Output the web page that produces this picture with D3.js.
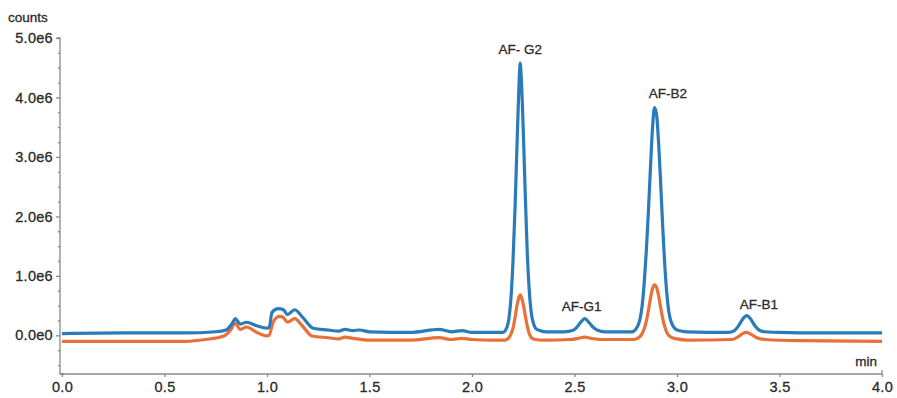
<!DOCTYPE html>
<html>
<head>
<meta charset="utf-8">
<script src="https://cdn.jsdelivr.net/npm/d3@7"></script>
<style>
  body { margin: 0; background: #fff; }
  text { font-family: "Liberation Sans", Arial, sans-serif; fill: #2a2a2a; }
</style>
</head>
<body>
<script>
// chromatogram, counts (x1e6) over retention time (min)

// blue trace: [time, counts in 1e6]
var blueTrace = [
  [0.00, 0.03], [0.30, 0.04], [0.60, 0.04], [0.75, 0.06], [0.80, 0.09],
  [0.83, 0.20], [0.845, 0.28], [0.87, 0.19], [0.90, 0.22], [0.95, 0.16],
  [1.00, 0.12], [1.01, 0.13], [1.025, 0.39], [1.055, 0.45], [1.08, 0.43],
  [1.10, 0.35], [1.135, 0.43], [1.17, 0.32], [1.225, 0.12], [1.30, 0.09],
  [1.35, 0.07], [1.38, 0.10], [1.42, 0.08], [1.45, 0.09], [1.50, 0.06],
  [1.70, 0.05], [1.84, 0.10], [1.90, 0.06], [1.95, 0.08], [2.00, 0.05],
  [2.15, 0.05], [2.16, 0.07], [2.17, 0.13], [2.18, 0.28], [2.19, 0.62],
  [2.20, 1.25], [2.21, 2.15], [2.22, 3.25], [2.23, 4.28], [2.235, 4.58],
  [2.24, 4.35], [2.25, 3.45], [2.26, 2.35], [2.27, 1.35], [2.28, 0.72],
  [2.29, 0.36], [2.30, 0.20], [2.31, 0.12], [2.33, 0.08], [2.36, 0.06],
  [2.45, 0.06], [2.49, 0.08], [2.51, 0.13], [2.53, 0.22], [2.55, 0.28],
  [2.57, 0.22], [2.59, 0.14], [2.61, 0.09], [2.65, 0.06], [2.78, 0.06],
  [2.80, 0.11], [2.82, 0.28], [2.83, 0.50], [2.84, 0.88], [2.85, 1.40],
  [2.86, 2.05], [2.87, 2.78], [2.88, 3.45], [2.89, 3.83], [2.90, 3.72],
  [2.91, 3.25], [2.92, 2.58], [2.93, 1.85], [2.94, 1.20], [2.95, 0.72],
  [2.96, 0.40], [2.98, 0.16], [3.00, 0.09], [3.05, 0.06], [3.25, 0.05],
  [3.28, 0.08], [3.30, 0.16], [3.32, 0.27], [3.34, 0.33], [3.36, 0.27],
  [3.38, 0.16], [3.40, 0.09], [3.43, 0.06], [3.50, 0.05], [3.70, 0.04],
  [4.00, 0.04]
];

// orange trace
var orangeTrace = [
  [0.00, -0.10], [0.30, -0.10], [0.60, -0.10], [0.70, -0.07], [0.79, -0.01],
  [0.82, 0.08], [0.845, 0.20], [0.87, 0.10], [0.90, 0.14], [0.95, 0.05],
  [1.00, -0.01], [1.01, 0.00], [1.03, 0.22], [1.06, 0.32], [1.08, 0.30],
  [1.10, 0.22], [1.135, 0.28], [1.17, 0.17], [1.22, -0.01], [1.30, -0.04],
  [1.35, -0.06], [1.38, -0.03], [1.42, -0.05], [1.50, -0.08], [1.70, -0.08],
  [1.84, -0.04], [1.90, -0.07], [1.95, -0.05], [2.00, -0.07], [2.10, -0.08],
  [2.16, -0.08], [2.18, -0.04], [2.19, 0.02], [2.20, 0.12], [2.21, 0.30],
  [2.22, 0.51], [2.23, 0.65], [2.235, 0.68], [2.24, 0.65], [2.25, 0.52],
  [2.26, 0.33], [2.27, 0.15], [2.28, 0.02], [2.29, -0.04], [2.31, -0.07],
  [2.35, -0.08], [2.48, -0.07], [2.52, -0.05], [2.55, -0.03], [2.58, -0.05],
  [2.63, -0.07], [2.78, -0.07], [2.80, -0.06], [2.82, -0.02], [2.83, 0.03],
  [2.84, 0.11], [2.85, 0.23], [2.86, 0.41], [2.87, 0.61], [2.88, 0.78],
  [2.89, 0.85], [2.90, 0.81], [2.91, 0.67], [2.92, 0.47], [2.93, 0.29],
  [2.94, 0.15], [2.95, 0.05], [2.97, -0.03], [3.00, -0.06], [3.05, -0.08],
  [3.27, -0.07], [3.30, -0.02], [3.32, 0.03], [3.34, 0.05], [3.36, 0.02],
  [3.39, -0.04], [3.43, -0.07], [3.60, -0.09], [4.00, -0.10]
];

// peak names with anchor [time, counts]
var peakNames = ["AF- G2", "AF-B2", "AF-G1", "AF-B1"];
var peakAnchors = [[2.235, 4.73], [2.955, 3.99], [2.535, 0.41], [3.40, 0.44]];

var xTicks = [0, 0.5, 1, 1.5, 2, 2.5, 3, 3.5, 4];
var xTickLabels = ["0.0", "0.5", "1.0", "1.5", "2.0", "2.5", "3.0", "3.5", "4.0"];
var yTicks = [0, 1, 2, 3, 4, 5];
var yTickLabels = ["0.0e0", "1.0e6", "2.0e6", "3.0e6", "4.0e6", "5.0e6"];
var yMinor = [-0.5, -0.25, 0.25, 0.5, 0.75, 1.25, 1.5, 1.75, 2.25, 2.5, 2.75,
              3.25, 3.5, 3.75, 4.25, 4.5, 4.75];

var width = 897, height = 398;
var pad = { left: 60, right: 15, top: 38, bottom: 24 };

var svg = d3.select("body").append("svg")
            .attr("width", width)
            .attr("height", height);

var xScale = d3.scaleLinear()
               .domain([0, 4])
               .range([62, 882]);
var yScale = d3.scaleLinear()
               .domain([-0.65, 5])
               .range([height - pad.bottom, pad.top]);

// x axis
var xAxis = d3.axisBottom(xScale)
              .tickValues(xTicks)
              .tickFormat(function(d, i) { return xTickLabels[i]; })
              .tickSize(3)
              .tickSizeOuter(0)
              .tickPadding(5);
var gx = svg.append("g")
   .attr("transform", "translate(0," + (height - pad.bottom) + ")")
   .call(xAxis);
gx.select(".domain").attr("d", "M" + (pad.left) + ",0H882V-4");

// y axis, major and minor ticks
var yAxis = d3.axisLeft(yScale)
              .tickValues(yTicks)
              .tickFormat(function(d, i) { return yTickLabels[i]; })
              .tickSize(4)
              .tickSizeOuter(0)
              .tickPadding(3);
var gy = svg.append("g")
   .attr("transform", "translate(" + pad.left + ",0)")
   .call(yAxis);
gy.select(".domain").attr("d", "M-3," + yScale(5) + "H0V" + (height - pad.bottom) + "H4");

svg.append("g")
   .attr("transform", "translate(" + pad.left + ",0)")
   .call(d3.axisLeft(yScale).tickValues(yMinor).tickFormat("").tickSize(2).tickSizeOuter(0))
   .select(".domain").remove();

svg.selectAll(".domain, .tick line")
   .attr("stroke", "#8a8a8a")
   .attr("stroke-width", 1.3);
svg.selectAll(".tick text")
   .style("font-size", "14.5px")
   .style("letter-spacing", "0.3px")
   .style("stroke", "#2a2a2a")
   .style("stroke-width", "0.3px")
   .attr("fill", "#2a2a2a");

// traces
var line = d3.line()
             .x(function(d) { return xScale(d[0]); })
             .y(function(d) { return yScale(d[1]); })
             .curve(d3.curveMonotoneX);

svg.append("path")
   .attr("d", line(orangeTrace))
   .attr("fill", "none")
   .attr("stroke", "#e8703a")
   .attr("stroke-width", 3.2)
   .attr("stroke-linejoin", "round");

svg.append("path")
   .attr("d", line(blueTrace))
   .attr("fill", "none")
   .attr("stroke", "#2a7bba")
   .attr("stroke-width", 3.2)
   .attr("stroke-linejoin", "round");

// peak labels
svg.selectAll(".peak")
   .data(peakNames)
   .enter()
   .append("text")
   .attr("class", "peak")
   .attr("x", function(d, i) { return xScale(peakAnchors[i][0]); })
   .attr("y", function(d, i) { return yScale(peakAnchors[i][1]); })
   .attr("text-anchor", "middle")
   .style("font-size", "13.5px")
   .style("stroke", "#2a2a2a")
   .style("stroke-width", "0.3px")
   .text(function(d) { return d; });

// axis titles
svg.append("text")
   .attr("x", 8)
   .attr("y", 22)
   .style("font-size", "13.5px")
   .style("stroke", "#2a2a2a")
   .style("stroke-width", "0.3px")
   .text("counts");

svg.append("text")
   .attr("x", 877)
   .attr("y", 366)
   .attr("text-anchor", "end")
   .style("font-size", "13.5px")
   .style("stroke", "#2a2a2a")
   .style("stroke-width", "0.3px")
   .text("min");
</script>
</body>
</html>
